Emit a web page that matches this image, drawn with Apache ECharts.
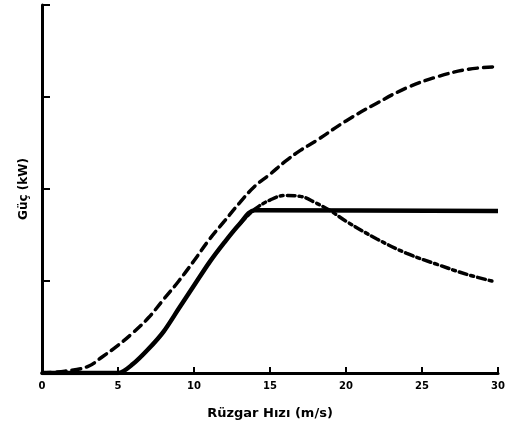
<!DOCTYPE html>
<html><head><meta charset="utf-8">
<script src="https://cdn.jsdelivr.net/npm/echarts@6/dist/echarts.min.js"></script>
<style>html,body{margin:0;padding:0;background:#fff}#c{width:520px;height:439px}</style>
</head><body><div id="c"></div>
<script>
const xTicks = [0, 5, 10, 15, 20, 25, 30];
const solidX = [0, 5, 6, 7, 8, 9, 10, 11, 12, 13, 14, 30];
const solidY = [0, 0, 0.1, 0.26, 0.45, 0.7, 0.95, 1.2, 1.42, 1.62, 1.77, 1.76];
const dashX = [0, 1.5, 3, 4, 5, 6, 7, 8, 9, 10, 11, 12, 13, 14, 15, 16, 17, 18, 20, 22, 24, 26, 28, 30];
const dashY = [0, 0.02, 0.07, 0.18, 0.3, 0.44, 0.6, 0.8, 1.0, 1.22, 1.45, 1.65, 1.85, 2.03, 2.16, 2.3, 2.42, 2.52, 2.74, 2.93, 3.1, 3.22, 3.3, 3.33];
const dotX = [13, 14, 15, 16, 17, 18, 19, 20, 22, 24, 26, 28, 29.6];
const dotY = [1.62, 1.78, 1.88, 1.93, 1.92, 1.85, 1.76, 1.65, 1.46, 1.3, 1.18, 1.07, 1.0];
const zip = (a, b) => a.map((v, i) => [v, b[i]]);
const chart = echarts.init(document.getElementById('c'));
const font = 'DejaVu Sans';
chart.setOption({
  animation: false,
  grid: {left: 42, right: 22, top: 5, bottom: 66},
  xAxis: {
    type: 'value', min: 0, max: 30, interval: 5,
    name: 'Rüzgar Hızı (m/s)', nameLocation: 'middle', nameGap: 34,
    nameTextStyle: {fontFamily: font, fontWeight: 'bold', fontSize: 13, color: '#000'},
    axisLine: {lineStyle: {color: '#000', width: 3}},
    axisTick: {inside: true, length: 6, lineStyle: {color: '#000', width: 2}},
    axisLabel: {fontFamily: font, fontWeight: 'bold', fontSize: 10, color: '#000', margin: 8,
      formatter: v => xTicks.includes(v) ? String(v) : ''},
    splitLine: {show: false}
  },
  yAxis: {
    type: 'value', min: 0, max: 4, interval: 1,
    name: 'Güç (kW)', nameLocation: 'middle', nameGap: 12, nameRotate: 90,
    nameTextStyle: {fontFamily: font, fontWeight: 'bold', fontSize: 12, color: '#000'},
    axisLine: {show: true, lineStyle: {color: '#000', width: 3}},
    axisTick: {show: true, inside: true, length: 8, lineStyle: {color: '#000', width: 2}},
    axisLabel: {show: false},
    splitLine: {show: false}
  },
  series: [
    {type: 'line', data: zip(dashX, dashY), smooth: 0.4, symbol: 'none',
      lineStyle: {color: '#000', width: 3.5, type: [9, 6], cap: 'round'}},
    {type: 'line', data: zip(dotX, dotY), smooth: 0.4, symbol: 'none',
      lineStyle: {color: '#000', width: 3.5, type: [8, 4, 3, 4], cap: 'round'}},
    {type: 'line', data: zip(solidX, solidY), smooth: 0.3, symbol: 'none',
      lineStyle: {color: '#000', width: 4.5, join: 'round'}}
  ]
});
</script></body></html>
